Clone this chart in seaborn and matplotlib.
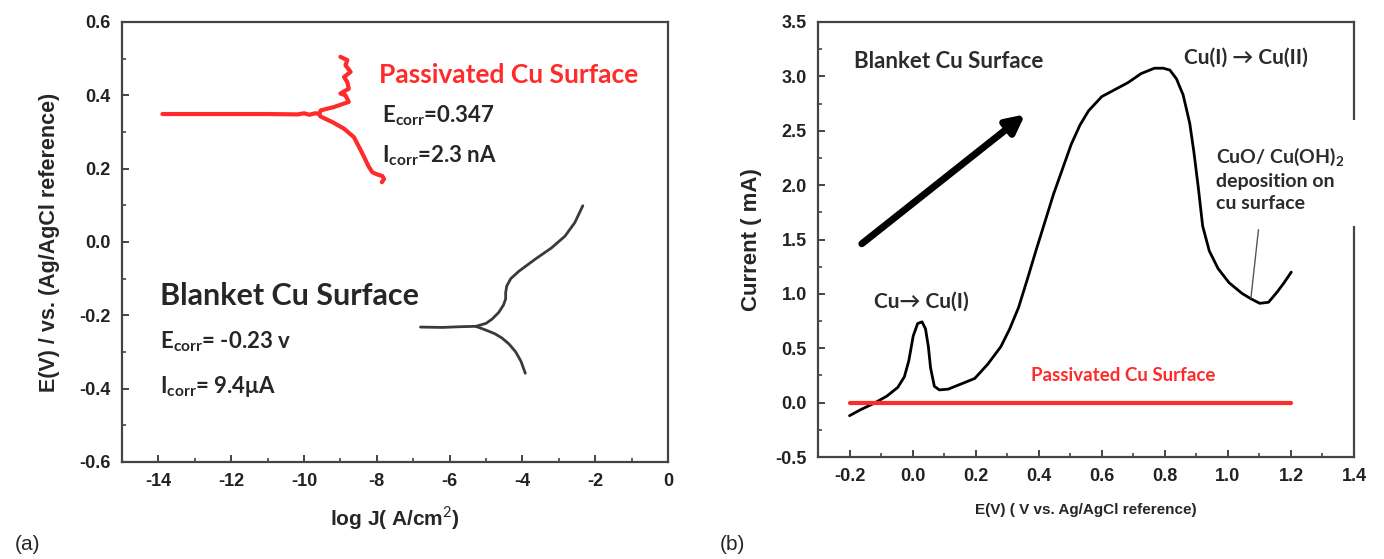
import matplotlib
matplotlib.use("Agg")
import matplotlib.pyplot as plt
import seaborn as sns
from matplotlib.ticker import MultipleLocator
from matplotlib.patches import Rectangle

# ---- (a) Tafel plot: log J vs E ----
pass_flat_logj = [-13.89, -12.5, -11.0, -10.17, -10.0, -9.85, -9.7, -9.58]
pass_flat_e = [0.349, 0.349, 0.349, 0.348, 0.351, 0.347, 0.351, 0.350]
pass_anodic_logj = [-9.58, -9.54, -9.18, -8.77, -8.86, -9.0, -8.77, -8.81, -8.90, -8.72, -8.86, -8.81, -9.0]
pass_anodic_e = [0.350, 0.359, 0.368, 0.382, 0.400, 0.405, 0.418, 0.436, 0.450, 0.464, 0.482, 0.496, 0.505]
pass_cath_logj = [-9.58, -9.54, -9.22, -8.90, -8.63, -8.45, -8.33, -8.22, -8.12, -7.98, -7.85, -7.80, -7.86]
pass_cath_e = [0.347, 0.342, 0.327, 0.309, 0.286, 0.252, 0.228, 0.205, 0.190, 0.184, 0.180, 0.172, 0.163]

blank_flat_logj = [-6.8, -6.2, -5.7, -5.28]
blank_flat_e = [-0.232, -0.233, -0.231, -0.230]
blank_anodic_logj = [-5.28, -5.0, -4.83, -4.65, -4.52, -4.46, -4.46, -4.43, -4.32, -4.10, -3.65,
                     -3.20, -2.83, -2.56, -2.34]
blank_anodic_e = [-0.230, -0.222, -0.210, -0.192, -0.172, -0.155, -0.138, -0.120, -0.100, -0.080,
                  -0.047, -0.016, 0.016, 0.053, 0.099]
blank_cath_logj = [-5.28, -5.01, -4.76, -4.56, -4.37, -4.19, -4.04, -3.92]
blank_cath_e = [-0.230, -0.240, -0.250, -0.262, -0.278, -0.299, -0.325, -0.358]

# ---- (b) linear sweep: E vs current ----
lsv_e = [-0.2, -0.165, -0.123, -0.082, -0.047, -0.026, -0.012, 0.002, 0.016, 0.03, 0.041,
         0.050, 0.057, 0.069, 0.085, 0.113, 0.155, 0.197, 0.238, 0.28, 0.308, 0.336, 0.364,
         0.391, 0.419, 0.447, 0.475, 0.503, 0.531, 0.558, 0.600, 0.642, 0.684, 0.725, 0.767,
         0.795, 0.816, 0.837, 0.858, 0.879, 0.892, 0.906, 0.920, 0.941, 0.969, 1.004, 1.045,
         1.073, 1.101, 1.129, 1.157, 1.178, 1.201]
lsv_i = [-0.12, -0.065, -0.007, 0.059, 0.14, 0.238, 0.385, 0.613, 0.727, 0.743, 0.678,
         0.515, 0.320, 0.15, 0.117, 0.124, 0.173, 0.222, 0.352, 0.515, 0.678, 0.874, 1.135,
         1.395, 1.656, 1.917, 2.145, 2.374, 2.553, 2.683, 2.814, 2.879, 2.944, 3.026, 3.075,
         3.075, 3.058, 2.977, 2.830, 2.569, 2.308, 1.982, 1.624, 1.395, 1.232, 1.102, 1.004,
         0.955, 0.913, 0.923, 1.02, 1.102, 1.20]
pass_lsv_e = [-0.2, 1.2]
pass_lsv_i = [0.0, 0.0]

sns.set_theme(style="ticks")
plt.rcParams['font.family'] = ['Liberation Sans', 'DejaVu Sans']
plt.rcParams['mathtext.fontset'] = 'custom'
plt.rcParams['mathtext.rm'] = 'Lato'
plt.rcParams['mathtext.bf'] = 'Lato:bold'

red = '#ff2a2a'
spine_c = '#444444'
lbl = ['Lato', 'DejaVu Sans']

fig = plt.figure(figsize=(13.84, 5.59), dpi=100)
ax1 = fig.add_axes([122 / 1384, 97 / 559, 546 / 1384, 440 / 559])
ax2 = fig.add_axes([818 / 1384, 102 / 559, 536 / 1384, 435 / 559])

for xs, ys in [(pass_flat_logj, pass_flat_e), (pass_anodic_logj, pass_anodic_e),
               (pass_cath_logj, pass_cath_e)]:
    sns.lineplot(x=xs, y=ys, sort=False, estimator=None, color=red, lw=3, ax=ax1)
for xs, ys in [(blank_flat_logj, blank_flat_e), (blank_anodic_logj, blank_anodic_e),
               (blank_cath_logj, blank_cath_e)]:
    sns.lineplot(x=xs, y=ys, sort=False, estimator=None, color='#3a3a3a', lw=2, ax=ax1)

ax1.set_xlim(-15, 0)
ax1.set_ylim(-0.6, 0.6)
ax1.set_xticks(range(-14, 1, 2))
ax1.set_xticklabels([str(v) for v in range(-14, 1, 2)])
ax1.xaxis.set_minor_locator(MultipleLocator(1))
ax1.set_yticks([-0.6, -0.4, -0.2, 0.0, 0.2, 0.4, 0.6])
ax1.set_yticklabels(['-0.6', '-0.4', '-0.2', '0.0', '0.2', '0.4', '0.6'])
ax1.yaxis.set_minor_locator(MultipleLocator(0.1))
ax1.set_xlabel('log J( A/cm$^2$)', fontsize=15, fontweight='bold', labelpad=10)
ax1.set_ylabel('E(V) / vs. (Ag/AgCl reference)', fontsize=15.5, fontweight='bold', labelpad=14)

ax1.text(-7.95, 0.455, 'Passivated Cu Surface', color=red, fontsize=19, fontweight='bold',
         family=lbl, va='center')
ax1.text(-7.85, 0.345, r'E$_\mathbf{corr}$=0.347', fontsize=16, fontweight='bold', family=lbl, va='center')
ax1.text(-7.85, 0.234, r'I$_\mathbf{corr}$=2.3 nA', fontsize=16, fontweight='bold', family=lbl, va='center')
ax1.text(-13.95, -0.147, 'Blanket Cu Surface', fontsize=22, fontweight='bold', family=lbl, va='center')
ax1.text(-13.95, -0.272, r'E$_\mathbf{corr}$= -0.23 v', fontsize=16, fontweight='bold', family=lbl, va='center')
ax1.text(-13.95, -0.393, r'I$_\mathbf{corr}$= 9.4μA', fontsize=16, fontweight='bold', family=lbl, va='center')

sns.lineplot(x=lsv_e, y=lsv_i, sort=False, estimator=None, color='black', lw=2, ax=ax2)
sns.lineplot(x=pass_lsv_e, y=pass_lsv_i, sort=False, estimator=None, color=red, lw=3, ax=ax2)

ax2.set_xlim(-0.3, 1.4)
ax2.set_ylim(-0.5, 3.5)
ax2.set_xticks([-0.2, 0.0, 0.2, 0.4, 0.6, 0.8, 1.0, 1.2, 1.4])
ax2.set_xticklabels(['-0.2', '0.0', '0.2', '0.4', '0.6', '0.8', '1.0', '1.2', '1.4'])
ax2.xaxis.set_minor_locator(MultipleLocator(0.1))
ax2.set_yticks([-0.5, 0.0, 0.5, 1.0, 1.5, 2.0, 2.5, 3.0, 3.5])
ax2.set_yticklabels(['-0.5', '0.0', '0.5', '1.0', '1.5', '2.0', '2.5', '3.0', '3.5'])
ax2.yaxis.set_minor_locator(MultipleLocator(0.25))
ax2.set_xlabel('E(V) ( V vs. Ag/AgCl reference)', fontsize=11, fontweight='bold', labelpad=13)
ax2.set_ylabel('Current ( mA)', fontsize=16, fontweight='bold', labelpad=10)

grey_txt = '#2b2b2b'
ax2.text(-0.186, 3.14, 'Blanket Cu Surface', fontsize=16, fontweight='bold', family=lbl,
         color=grey_txt, va='center')
ax2.text(0.86, 3.17, 'Cu(I) → Cu(II)', fontsize=15, fontweight='bold', family=lbl,
         color=grey_txt, va='center')
ax2.text(-0.121, 0.93, 'Cu→ Cu(I)', fontsize=15, fontweight='bold', family=lbl,
         color=grey_txt, va='center')
ax2.text(0.962, 2.06, 'CuO/ Cu(OH)$_\\mathbf{2}$\ndeposition on\ncu surface', fontsize=14,
         fontweight='bold', family=lbl, color=grey_txt, va='center', linespacing=1.35)
ax2.text(0.375, 0.25, 'Passivated Cu Surface', fontsize=13.5, fontweight='bold', family=lbl,
         color=red, va='center')

ax2.annotate('', xy=(0.357, 2.651), xytext=(-0.161, 1.461),
             arrowprops=dict(arrowstyle='-|>,head_length=0.9,head_width=0.45', lw=5,
                             color='black', shrinkA=0, shrinkB=0))
ax2.annotate('', xy=(1.073, 0.96), xytext=(1.097, 1.59),
             arrowprops=dict(arrowstyle='-', lw=1, color='#555555', shrinkA=0, shrinkB=0))

# white gap in right frame behind the annotation text
ax2.add_patch(Rectangle((0.98, (1.62 + 0.5) / 4), 0.05, (2.6 - 1.62) / 4,
                        transform=ax2.transAxes, facecolor='white', edgecolor='none',
                        clip_on=False, zorder=5))

for ax in (ax1, ax2):
    for sp in ax.spines.values():
        sp.set_visible(True)
        sp.set_color(spine_c)
        sp.set_linewidth(1.6)
    ax.tick_params(which='major', direction='in', length=5, width=1.4, color=spine_c,
                   labelsize=13, pad=8, top=False, right=False)
    ax.tick_params(which='minor', direction='in', length=3, width=1.2, color=spine_c,
                   top=False, right=False)
    for t in ax.get_xticklabels() + ax.get_yticklabels():
        t.set_fontweight('bold')
        t.set_color('#222222')

fig.text(15 / 1384, 1 - 545 / 559, '(a)', fontsize=15, va='center', ha='left')
fig.text(720 / 1384, 1 - 545 / 559, '(b)', fontsize=15, va='center', ha='left')

fig.savefig('out.png', dpi=100, facecolor='white')
